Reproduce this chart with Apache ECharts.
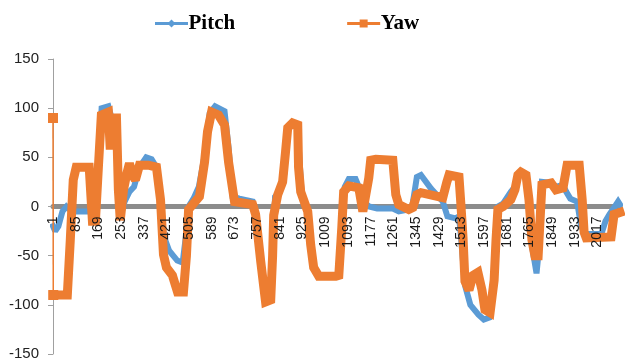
<!DOCTYPE html>
<html>
<head>
<meta charset="utf-8">
<script src="https://cdn.jsdelivr.net/npm/echarts@6/dist/echarts.min.js"></script>
<style>
  html, body { margin: 0; padding: 0; background: #fff; }
  #chart { width: 625px; height: 363px; }
</style>
</head>
<body>
<div id="chart"></div>
<script>
// Sample numbers 1..2100 along the horizontal axis
const sampleCount = 2100;
const categories = [];
for (let i = 1; i <= sampleCount; i++) categories.push(String(i));

// y-axis range
const yTicks = { min: -150, max: 150, step: 50 };

// Pitch angle, [sample index (0-based), degrees]
const pitchData = [
  [0, -20], [8, -25], [20, -20], [35, -5], [50, 0], [70, -5], [140, -5], [160, -8],
  [170, 45], [180, 100], [205, 102], [215, 92], [235, 85], [245, 20], [255, -5],
  [265, 5], [283, 15], [300, 20], [320, 40], [345, 50], [365, 48], [383, 40],
  [398, 10], [410, -30], [430, -45], [460, -55], [480, -57], [492, -30], [502, 0],
  [520, 8], [540, 20], [560, 50], [580, 95], [600, 102], [635, 97], [650, 60],
  [665, 10], [690, 8], [739, 5], [750, -8], [769, -56], [787, -97], [806, -95],
  [813, -50], [822, 10], [840, 15], [855, 30], [869, 80], [887, 85], [906, 83],
  [912, 50], [920, 15], [943, -5], [954, -39], [965, -62], [984, -71], [1047, -71],
  [1058, -70], [1069, -10], [1080, 20], [1095, 28], [1120, 28], [1132, 20],
  [1150, 5], [1170, 0], [1200, -2], [1258, -2], [1280, -5], [1317, -3], [1330, 0],
  [1347, 30], [1362, 32], [1400, 18], [1443, 5], [1460, -10], [1490, -12],
  [1503, -10], [1510, -30], [1525, -80], [1545, -100], [1575, -110], [1595, -115],
  [1615, -113], [1630, -80], [1640, -20], [1647, 0], [1666, 3], [1695, 15],
  [1710, 20], [1721, 32], [1751, 32], [1762, 7], [1773, -40], [1790, -68],
  [1800, -40], [1810, 25], [1844, 24], [1862, 20], [1888, 22], [1900, 15],
  [1915, 8], [1940, 5], [1955, -20], [1970, -28], [2030, -28], [2045, -15],
  [2060, -8], [2080, 0], [2092, 5], [2099, 2]
];

// Yaw angle, [sample index (0-based), degrees]
const yawStart = [[0, 90], [1, -90]];
const yawData = [
  [1, -90], [53, -90], [64, -34], [75, 27], [86, 40], [134, 40], [146, -15],
  [157, -15], [168, 40], [179, 93], [205, 96], [212, 58], [220, 90], [235, 90],
  [242, 17], [249, -14], [261, 17], [272, 32], [283, 44], [294, 32], [305, 27],
  [320, 42], [353, 42], [383, 40], [398, 7], [409, -49], [420, -62], [442, -70],
  [461, -87], [483, -87], [494, -50], [502, -3], [520, 3], [542, 10], [561, 45],
  [572, 76], [587, 96], [613, 93], [635, 83], [650, 45], [672, 5], [739, 2],
  [750, -8], [769, -56], [787, -97], [806, -95], [813, -50], [817, -9], [832, 12],
  [850, 25], [861, 56], [869, 80], [887, 85], [906, 83], [909, 40], [917, 15],
  [943, -5], [954, -39], [965, -62], [984, -71], [1047, -71], [1058, -70],
  [1069, -22], [1076, 15], [1095, 21], [1132, 19], [1147, -5], [1154, -7],
  [1169, 29], [1176, 47], [1195, 48], [1258, 47], [1269, 12], [1280, 2],
  [1317, -3], [1332, -1], [1347, 12], [1362, 14], [1443, 9], [1458, 25],
  [1466, 32], [1503, 30], [1510, 2], [1518, -32], [1525, -76], [1540, -85],
  [1555, -70], [1573, -67], [1588, -85], [1599, -105], [1618, -108], [1633, -75],
  [1640, -34], [1647, -3], [1666, 0], [1695, 7], [1710, 17], [1721, 32],
  [1732, 35], [1751, 32], [1762, 7], [1773, -34], [1784, -50], [1796, -50],
  [1803, -14], [1810, 22], [1844, 24], [1862, 17], [1888, 19], [1903, 42],
  [1948, 42], [1959, 7], [1966, -26], [1974, -32], [2066, -31], [2077, -8],
  [2099, -6]
];

const BLUE = '#5B9BD5';
const ORANGE = '#ED7D31';

// plot area, px
const plotTop = 59;
const plotBottom = 9;
const plotHeight = 363 - plotTop - plotBottom;

const chart = echarts.init(document.getElementById('chart'), null, { renderer: 'canvas' });

// the category axis runs along the zero line, halfway up the plot
const zeroLineAxis = {
  type: 'category',
  data: categories,
  boundaryGap: false,
  position: 'bottom',
  offset: -plotHeight / 2,
  splitLine: { show: false },
  axisTick: { show: false }
};

chart.setOption({
  animation: false,
  backgroundColor: '#ffffff',
  legend: {
    data: [
      { name: 'Pitch', lineStyle: { width: 3 } },
      { name: 'Yaw', lineStyle: { width: 3 } }
    ],
    left: 150,
    top: 8,
    itemWidth: 30,
    itemHeight: 10,
    itemGap: 112,
    textStyle: {
      fontFamily: 'Liberation Serif',
      fontWeight: 'bold',
      fontSize: 21,
      color: '#000',
      padding: [0, 0, 0, -3]
    }
  },
  grid: { left: 53, right: 5, top: plotTop, bottom: plotBottom, containLabel: false, outerBoundsMode: 'none' },
  xAxis: [
    // gray axis line, beneath the series
    Object.assign({}, zeroLineAxis, {
      z: 0,
      axisLine: { onZero: false, lineStyle: { color: '#8c8c8c', width: 5 } },
      axisLabel: { show: false }
    }),
    // tick labels, drawn over the series
    Object.assign({}, zeroLineAxis, {
      z: 10,
      axisLine: { show: false, onZero: false },
      axisLabel: {
        interval: 83,
        rotate: 90,
        margin: 10,
        fontFamily: 'Liberation Sans',
        fontSize: 14,
        color: '#1a1a1a'
      }
    })
  ],
  yAxis: {
    type: 'value',
    min: yTicks.min,
    max: yTicks.max,
    interval: yTicks.step,
    axisLine: { show: true, lineStyle: { color: '#a0a0a0', width: 1 } },
    axisTick: { show: true, length: 5, lineStyle: { color: '#a0a0a0' } },
    axisLabel: {
      margin: 14,
      fontFamily: 'Liberation Sans',
      fontSize: 15,
      color: '#222'
    },
    splitLine: { show: false }
  },
  series: [
    {
      name: 'Pitch',
      type: 'line',
      xAxisIndex: 0,
      data: pitchData,
      symbol: 'diamond',
      showSymbol: false,
      clip: false,
      itemStyle: { color: BLUE },
      lineStyle: { color: BLUE, width: 6, join: 'miter', miterLimit: 2, cap: 'square' },
      z: 2
    },
    {
      name: 'Yaw',
      type: 'line',
      xAxisIndex: 0,
      data: yawData,
      symbol: 'rect',
      showSymbol: false,
      clip: false,
      itemStyle: { color: ORANGE },
      lineStyle: { color: ORANGE, width: 9, join: 'miter', miterLimit: 2, cap: 'square' },
      z: 3
    },
    {
      name: 'Yaw start',
      type: 'line',
      xAxisIndex: 0,
      data: yawStart,
      symbol: 'rect',
      symbolSize: 10,
      showSymbol: true,
      showAllSymbol: true,
      clip: false,
      itemStyle: { color: ORANGE },
      lineStyle: { color: ORANGE, width: 1.5 },
      z: 4
    }
  ]
});
</script>
</body>
</html>
